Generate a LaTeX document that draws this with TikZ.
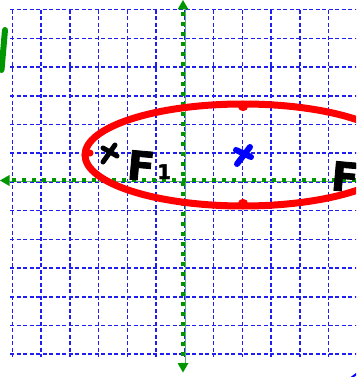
\documentclass[tikz,border=0pt]{standalone}
\usepackage{fontspec}
\newfontfamily\hand{DejaVu Sans}[BoldFeatures={FakeBold=2}]
\definecolor{gridblue}{RGB}{30,30,240}
\definecolor{axgreen}{RGB}{0,150,0}
\definecolor{axline}{RGB}{90,170,110}
\begin{document}
\begin{tikzpicture}[x=1pt,y=-1pt,
  gridline/.style={gridblue,line width=1.6pt,dash pattern=on 4pt off 2.5pt},
  axthin/.style={axline,line width=0.9pt},
  axdots/.style={axgreen,line width=4.3pt,dash pattern=on 4.3pt off 5.7pt},
  arrowtri/.style={fill=axgreen,draw=none},
  conic/.style={red,line width=7pt},
  pen/.style={line width=5pt,line cap=round,line join=round},
  handtext/.style={inner sep=0pt,font=\hand\bfseries\fontsize{40}{40}\selectfont}]
\useasboundingbox (0,0) rectangle (356,377);
\clip (0,0) rectangle (356,377);
% grid
\foreach \k in {0,...,11}{
  \draw[gridline] ({12.3+28.75*\k},9.7) -- ({12.3+28.75*\k},357);
}
\foreach \k in {0,...,12}{
  \draw[gridline] (10,{9.7+28.7*\k}) -- (360,{9.7+28.7*\k});
}
% axes
\draw[axthin] (185.2,9) -- (185.2,364);
\draw[axdots] (183,12) -- (183,362);
\fill[arrowtri] (183,0) -- (188.5,9.5) -- (177.5,9.5) -- cycle;
\fill[arrowtri] (183,372.5) -- (188.5,363) -- (177.5,363) -- cycle;
\draw[axthin] (9,181.6) -- (360,181.6);
\draw[axdots] (12,180) -- (360,180);
\fill[arrowtri] (0,180.5) -- (9.5,175) -- (9.5,186) -- cycle;
% ellipse
\draw[conic] (243,155) ellipse [x radius=158, y radius=51];
\fill[red] (243,106) circle (5.2);
\fill[red] (243,204) circle (5.2);
\fill[red] (90,153) circle (3.5);
% focus mark and labels
\draw[pen,black] (103,148) -- (117,156);
\draw[pen,black] (103,162) -- (115,145);
\node[handtext,anchor=base west,rotate=-5] (f1) at (126,179) {F};
\node[inner sep=0pt,anchor=base west,font=\hand\bfseries\fontsize{20}{20}\selectfont] (one) at (157,179) {1};
\node[handtext,anchor=base west,rotate=-5] (f2) at (330,190) {F};
% centre mark
\draw[pen,blue,line width=6pt] (236,150) -- (251,157);
\draw[pen,blue,line width=6pt] (237,164) -- (250,147);
% green stroke top-left
\draw[pen,axgreen,line width=6pt] (5,30) -- (1.5,70);
% blue corner stroke
\draw[blue,line width=2pt] (351,378) -- (357,373.5);
\end{tikzpicture}
\end{document}
